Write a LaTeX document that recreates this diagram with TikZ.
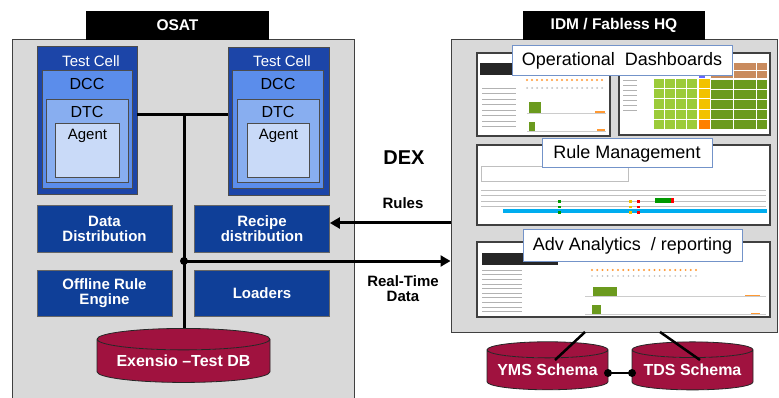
\documentclass[tikz,border=0pt]{standalone}
\usepackage{fontspec}
\setmainfont{Liberation Sans}
\usetikzlibrary{
	shapes.geometric,
	arrows.meta,
	positioning
}
\definecolor{cellblue}{HTML}{1C45A8}
\definecolor{dccblue}{HTML}{5B8DEB}
\definecolor{dtcblue}{HTML}{88AEF0}
\definecolor{agentblue}{HTML}{C9DAF8}
\definecolor{navy}{HTML}{0F3F98}
\definecolor{wine}{HTML}{A0123F}
\definecolor{panelgray}{HTML}{D9D9D9}
\definecolor{lblblue}{HTML}{7393C9}
\definecolor{tilelime}{HTML}{9CCB3A}
\definecolor{tilegreen}{HTML}{6B9A1E}
\definecolor{tileyellow}{HTML}{F2C200}
\definecolor{tilebrown}{HTML}{C98B5E}
\newcommand\fsz[1]{\fontsize{#1}{#1}\selectfont}

\begin{document}
\begin{tikzpicture}
[x=1pt, y=-1pt,
 panel/.style={draw=black!75, line width=1pt, fill=panelgray, inner sep=0pt},
 hdr/.style={fill=black, text=white, font=\fsz{15.5}\bfseries, minimum height=29pt},
 nest/.style={draw=black!70, line width=.8pt, inner sep=0pt},
 bluebox/.style={draw=black!60, line width=.8pt, fill=navy, text=white, align=center,
   font=\fsz{15}\bfseries, inner sep=0pt, minimum width=135pt, minimum height=47pt},
 db/.style={cylinder, shape border rotate=90, aspect=.16, draw=black!85, line width=.8pt,
   cylinder uses custom fill, cylinder body fill=wine, cylinder end fill=wine,
   text=white, font=\fsz{16}\bfseries, inner sep=0pt},
 screen/.style={draw=black!75, line width=1.5pt, fill=white, inner sep=0pt},
 scrlbl/.style={draw=lblblue, line width=1pt, fill=white, font=\fsz{18}, inner sep=0pt},
 wire/.style={line width=3pt},
 txt/.style={font=\fsz{15}\bfseries, align=center}]
\clip (0,0) rectangle (779,398);

% the two sites
\node[panel, minimum width=342pt, minimum height=370pt] (panelL) at (183,225) {};
\node[panel, minimum width=326pt, minimum height=292pt] (panelR) at (614,186) {};
\node[hdr, minimum width=183pt] (osat) at (177.5,25.5) {OSAT};
\node[hdr, minimum width=182pt] (idm) at (614,25.5) {IDM / Fabless HQ};

% test cells
\node[nest, fill=cellblue, minimum width=100pt, minimum height=148pt] (cellA) at (87,120) {};
\node[nest, fill=dccblue, minimum width=90pt, minimum height=118pt] (dccA) at (87,129) {};
\node[nest, fill=dtcblue, minimum width=82pt, minimum height=83pt] (dtcA) at (87,140.5) {};
\node[nest, fill=agentblue, minimum width=64pt, minimum height=54pt] (agentA) at (87,150) {};
\node[font=\fsz{15}, text=white] at (91,61) {Test Cell};
\node[font=\fsz{16}] at (87,84) {DCC};
\node[font=\fsz{16}] at (87,112) {DTC};
\node[font=\fsz{15}] at (87.5,136) {Agent};

\node[nest, fill=cellblue, minimum width=101pt, minimum height=148pt] (cellB) at (278.5,121) {};
\node[nest, fill=dccblue, minimum width=91pt, minimum height=118pt] (dccB) at (277.5,129) {};
\node[nest, fill=dtcblue, minimum width=82pt, minimum height=83pt] (dtcB) at (278,140.5) {};
\node[nest, fill=agentblue, minimum width=62pt, minimum height=54pt] (agentB) at (278,150) {};
\node[font=\fsz{15}, text=white] at (282,61) {Test Cell};
\node[font=\fsz{16}] at (278,84) {DCC};
\node[font=\fsz{16}] at (278,112) {DTC};
\node[font=\fsz{15}] at (278.5,136) {Agent};

% services
\node[bluebox] (datadist) at (104.5,228.5) {Data\\Distribution};
\node[bluebox] (recipe) at (262,228.5) {Recipe\\distribution};
\node[bluebox, minimum height=46pt] (offline) at (104.5,293) {Offline Rule\\Engine};
\node[bluebox, minimum height=46pt] (loaders) at (262,293) {Loaders};

% bus
\coordinate (bus) at (184,115);
\coordinate (hub) at (184,261);
\coordinate (dbtop) at (184,340);
\draw[wire] (cellA.east |- bus) -- (cellB.west |- bus);
\draw[wire] (bus) -- (dbtop);
\fill (hub) circle (4pt);
\node[db, minimum width=173pt, minimum height=54pt] (testdb) at (183.5,361) {Exensio --Test DB};

% screens
\node[screen, minimum width=133pt, minimum height=83pt] (dashA) at (543.5,94.5) {};
\node[screen, minimum width=151pt, minimum height=82pt] (dashB) at (694.5,94) {};
\node[screen, minimum width=293pt, minimum height=80pt] (rulescr) at (623.5,185) {};
\node[screen, minimum width=293pt, minimum height=75pt] (advscr) at (623.5,279.5) {};

% dashboard A
\fill[black!85] (480,63) rectangle (512,75);
\foreach \k in {0,...,15} \fill[orange!80] (527+\k*5,80) circle (1.2pt);
\foreach \k in {0,...,15} \fill[black!25] (527+\k*5,88) circle (1pt);
\foreach \j in {0,...,7} \draw[black!30, line width=.6pt] (482,88+\j*5.5) -- ++(34,0);
\fill[tilegreen] (529,102) rectangle (541,113);
\fill[tilegreen] (529,122) rectangle (535,131);
\draw[black!20, line width=.6pt] (527,113) -- (606,113) (527,131) -- (606,131);
\fill[orange!80] (595,111) rectangle (605,113);
\fill[orange!80] (597,129) rectangle (605,131);

% dashboard B
\foreach \j in {0,...,6} \draw[black!30, line width=.6pt] (623,80+\j*5) -- ++(14,0);
\foreach \i in {0,...,3} \foreach \j in {0,...,4}
  \fill[tilelime] (653.6+\i*11.2,78.6+\j*10.4) rectangle ++(10,9.2);
\foreach \j in {0,...,3} \fill[tileyellow] (698.8,78.6+\j*10.4) rectangle ++(11.4,9.2);
\fill[orange] (698.8,120.2) rectangle ++(11.4,9.2);
\foreach \i in {0,...,4} \foreach \j in {0,...,4}
  \fill[tilegreen] (711+\i*11.4,79.6+\j*10) rectangle ++(10.8,9.4);
\foreach \i in {0,...,4} \foreach \j in {0,1}
  \fill[tilebrown] (711+\i*11.4,63.4+\j*7.6) rectangle ++(10.8,7);
\fill[blue!60] (698.8,74) rectangle ++(6,4);

% rule management
\draw[black!25, line width=.6pt] (481,166) rectangle (628,181);
\foreach \j in {0,...,3} \draw[black!25, line width=.6pt] (481,190+\j*5.5) -- (766,190+\j*5.5);
\fill[cyan] (503,209) rectangle (767,213);
\foreach \j in {0,1,2} {
  \fill[green!60!black] (558,200.5+\j*5.5) rectangle ++(3,2.5);
  \fill[tileyellow] (629,200.5+\j*5.5) rectangle ++(3,2.5);
  \fill[red] (637,200.5+\j*5.5) rectangle ++(2.5,2.5);
}
\fill[green!60!black] (655,198) rectangle (672,203);
\fill[red] (671,198) rectangle (674,203);

% analytics
\fill[black!85] (482,253) rectangle (558,265);
\foreach \k in {0,...,20} \fill[orange!80] (592+\k*5.2,270) circle (1.1pt);
\foreach \k in {0,...,20} \fill[black!25] (592+\k*5.2,276) circle (.9pt);
\foreach \j in {0,...,9} \draw[black!30, line width=.6pt] (482,270+\j*4.6) -- ++(40,0);
\fill[tilegreen] (593,287) rectangle (617,296);
\fill[tilegreen] (592,305) rectangle (601,314);
\draw[black!20, line width=.6pt] (585,296) -- (766,296) (585,314) -- (766,314);
\fill[orange!80] (745,294.5) rectangle (760,296);
\fill[orange!80] (751,312.5) rectangle (760,314);

% screen captions
\node[scrlbl, minimum width=220pt, minimum height=30pt] (oplbl) at (622,61) {Operational~ Dashboards};
\node[scrlbl, minimum width=170pt, minimum height=29pt] (rulelbl) at (627,153.5) {Rule Management};
\node[scrlbl, minimum width=219pt, minimum height=31pt] (advlbl) at (632.5,245.5) {Adv Analytics~ /~reporting};

% DEX
\node[font=\fsz{20}\bfseries] (dex) at (404,158) {DEX};
\node[txt] (ruleslbl) at (403,203) {Rules};
\node[txt] (rtlbl) at (403,289) {Real-Time\\Data};
\coordinate (rulesin) at (451,223);
\draw[wire, -{Triangle[length=10pt,width=11pt]}] (rulesin) -- (rulesin -| recipe.east);
\draw[wire, -{Triangle[length=10pt,width=11pt]}] (hub) -- (hub -| panelR.west);

% schemas
\node[db, minimum width=121pt, minimum height=48pt] (yms) at (547.5,370) {YMS Schema};
\node[db, minimum width=121pt, minimum height=48pt] (tds) at (692.5,370) {TDS Schema};
\coordinate (ymsup) at (585,332);
\coordinate (ymsin) at (555,360);
\coordinate (tdsup) at (660,332);
\coordinate (tdsin) at (700,360);
\draw[line width=2.5pt] (ymsup) -- (ymsin);
\draw[line width=2.5pt] (tdsup) -- (tdsin);
\coordinate (ymsend) at (608,373);
\coordinate (tdsend) at (632,373);
\draw[line width=2.5pt] (ymsend) -- (tdsend);
\fill (ymsend) circle (4pt) (tdsend) circle (4pt);
\end{tikzpicture}
\end{document}
